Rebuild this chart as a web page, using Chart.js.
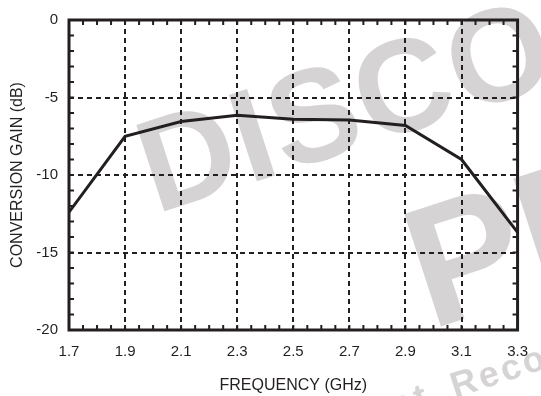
<!DOCTYPE html>
<html>
<head>
<meta charset="utf-8">
<script src="https://cdn.jsdelivr.net/npm/chart.js@4.4.1/dist/chart.umd.min.js"></script>
<style>
  html, body { margin: 0; padding: 0; background: #fff; }
  canvas { display: block; }
</style>
</head>
<body>
<canvas id="chart" width="541" height="396"></canvas>
<script>
// conversion gain vs frequency
const freqs = [1.7, 1.9, 2.1, 2.3, 2.5, 2.7, 2.9, 3.1, 3.3];
const gain  = [-12.4, -7.5, -6.55, -6.15, -6.4, -6.45, -6.8, -9.0, -13.7];

const xTicks = [1.7, 1.9, 2.1, 2.3, 2.5, 2.7, 2.9, 3.1, 3.3];
const yTicks = [-20, -15, -10, -5, 0];

const INK = '#231f20';
const FONT = '"Liberation Sans", Arial, Helvetica, sans-serif';

// grey "discontinued" stamp behind the plot
const watermark = {
  id: 'watermark',
  beforeDraw(chart) {
    const ctx = chart.ctx;
    const put = (str, x, y, size, spacing) => {
      ctx.save();
      ctx.translate(x, y);
      ctx.rotate(-18 * Math.PI / 180);
      ctx.font = `bold ${size}px ${FONT}`;
      ctx.letterSpacing = spacing + 'px';
      ctx.fillStyle = '#d6d3d5';
      ctx.fillText(str, 0, 0);
      ctx.restore();
    };
    put('DISCONTINUED', 156, 214, 132, 2);
    put('PRODUCT', 430, 330, 172, 0);
    put('Not', 367, 427, 36, 3);
    put('Recommended for New Designs', 455, 398, 36, 3);
  }
};

// solid frame + small inward ticks on all four sides
const frame = {
  id: 'frame',
  afterDraw(chart) {
    const { ctx, chartArea: a, scales: { x, y } } = chart;
    ctx.save();
    ctx.strokeStyle = INK;
    ctx.lineWidth = 2;
    ctx.beginPath();
    for (let v = 1.7; v < 3.3001; v += 0.05) {
      const px = x.getPixelForValue(v);
      ctx.moveTo(px, a.bottom); ctx.lineTo(px, a.bottom - 5);
      ctx.moveTo(px, a.top);    ctx.lineTo(px, a.top + 5);
    }
    for (let v = -20; v <= 0; v += 1) {
      const py = y.getPixelForValue(v);
      ctx.moveTo(a.left, py);  ctx.lineTo(a.left + 5, py);
      ctx.moveTo(a.right, py); ctx.lineTo(a.right - 5, py);
    }
    ctx.stroke();
    ctx.lineWidth = 3;
    ctx.strokeRect(a.left, a.top, a.right - a.left, a.bottom - a.top);
    ctx.restore();
  }
};

new Chart(document.getElementById('chart'), {
  type: 'line',
  data: {
    datasets: [{
      data: freqs.map((f, i) => ({ x: f, y: gain[i] })),
      borderColor: INK,
      borderWidth: 3,
      pointRadius: 0,
      tension: 0,
      fill: false
    }]
  },
  options: {
    responsive: false,
    animation: false,
    layout: { padding: { top: 14, right: 9, left: 0, bottom: 0 } },
    plugins: { legend: { display: false }, tooltip: { enabled: false } },
    scales: {
      x: {
        type: 'linear',
        min: 1.7, max: 3.3,
        afterBuildTicks: ax => { ax.ticks = xTicks.map(v => ({ value: v })); },
        afterFit: ax => { ax.height = 66; },
        grid: { color: INK, lineWidth: 2, drawTicks: false },
        border: { display: false, dash: [5, 4] },
        ticks: {
          padding: 13,
          color: INK,
          font: { family: FONT, size: 15 },
          maxRotation: 0,
          callback: v => v.toFixed(1)
        },
        title: {
          display: true,
          text: 'FREQUENCY (GHz)',
          color: INK,
          font: { family: FONT, size: 16, lineHeight: 1 },
          padding: { top: 0, bottom: 2 }
        }
      },
      y: {
        min: -20, max: 0,
        afterBuildTicks: ax => { ax.ticks = yTicks.map(v => ({ value: v })); },
        afterFit: ax => { ax.width = 69; },
        grid: { color: INK, lineWidth: 2, drawTicks: false },
        border: { display: false, dash: [5, 4] },
        ticks: {
          padding: 11,
          color: INK,
          font: { family: FONT, size: 15 },
          callback: v => String(v)
        },
        title: {
          display: true,
          text: 'CONVERSION GAIN (dB)',
          color: INK,
          font: { family: FONT, size: 16, lineHeight: 1 },
          padding: { top: 10, bottom: 0 }
        }
      }
    }
  },
  plugins: [watermark, frame]
});
</script>
</body>
</html>
